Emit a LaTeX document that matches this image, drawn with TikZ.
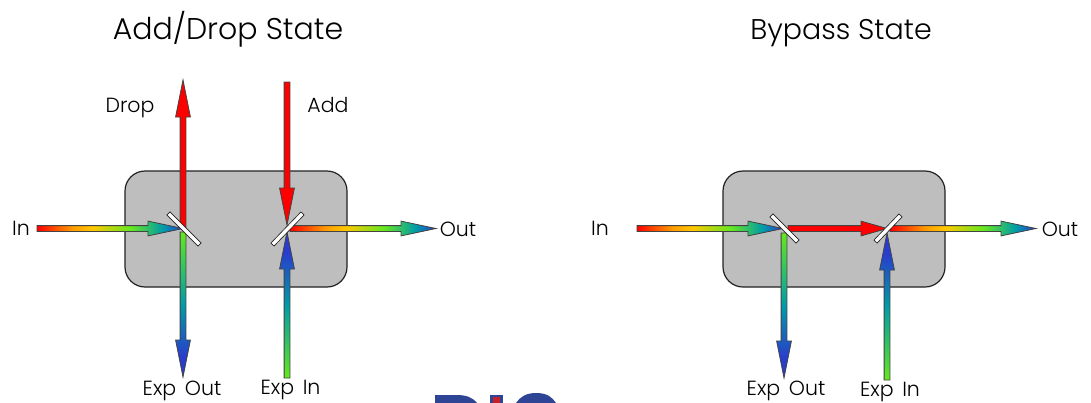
\documentclass[tikz,border=0pt]{standalone}
\usepackage{fontspec}
\setmainfont{Poppins Light}
\usetikzlibrary{calc}
\definecolor{boxgray}{HTML}{BEBEBE}
\definecolor{edge}{HTML}{222222}
\definecolor{logoblue}{HTML}{2E4494}
\definecolor{logored}{HTML}{C8202A}
\definecolor{rbR}{HTML}{FF0000}\definecolor{rbO}{HTML}{FF9A00}\definecolor{rbY}{HTML}{FFC800}
\definecolor{rbG}{HTML}{66E81E}\definecolor{rbT}{HTML}{009CA8}\definecolor{rbB}{HTML}{2A3CCC}
\pgfdeclarehorizontalshading{rainbow}{100bp}{color(0bp)=(rbR); color(25bp)=(rbR); color(37bp)=(rbO); color(44bp)=(rbY); color(57bp)=(rbG); color(68bp)=(rbT); color(75bp)=(rbB); color(100bp)=(rbB)}
\pgfdeclarehorizontalshading{greenblue}{100bp}{color(0bp)=(rbG); color(25bp)=(rbG); color(50bp)=(rbT); color(68bp)=(rbB); color(75bp)=(rbB); color(100bp)=(rbB)}
\pgfdeclarehorizontalshading{solidred}{100bp}{color(0bp)=(rbR); color(100bp)=(rbR)}
\tikzset{
  x=1pt,y=-1pt,
  device/.style={draw=edge,fill=boxgray,line width=1.2pt,rounded corners=20pt},
  beam/.style={draw=edge!85,line width=.8pt},
  mirrorout/.style={draw=edge,line width=5pt,line cap=rect},
  mirrorin/.style={draw=white,line width=3.4pt,line cap=rect},
  title/.style={font=\fontsize{30}{32}\selectfont,inner sep=0pt,anchor=base},
  titleb/.style={font=\fontsize{28.5}{32}\selectfont,inner sep=0pt,anchor=base},
  lab/.style={font=\fontsize{20.5}{22}\selectfont,inner sep=0pt,anchor=base},
}
% optional head length, start, tip, shading, angle
\newcommand{\harrow}[5][35]{\shade[beam,shading=#4,shading angle=#5]
  ([yshift=2.9pt]#2) -- ([xshift=-#1pt,yshift=2.9pt]#3) -- ([xshift=-#1pt,yshift=7.4pt]#3) -- (#3)
  -- ([xshift=-#1pt,yshift=-7.4pt]#3) -- ([xshift=-#1pt,yshift=-2.9pt]#3) -- ([yshift=-2.9pt]#2) -- cycle;}
% start, tip, shading, angle, sign (-1 = points up on the page, +1 = points down)
\newcommand{\varrow}[5]{\shade[beam,shading=#3,shading angle=#4]
  ([xshift=-2.9pt]#1) -- ([xshift=-2.9pt,yshift=#5*37pt]#2) -- ([xshift=-7.4pt,yshift=#5*37pt]#2) -- (#2)
  -- ([xshift=7.4pt,yshift=#5*37pt]#2) -- ([xshift=2.9pt,yshift=#5*37pt]#2) -- ([xshift=2.9pt]#1) -- cycle;}
\begin{document}
\begin{tikzpicture}
\useasboundingbox (0,0) rectangle (1091,402);
\fill[white] (0,0) rectangle (1091,402);
% logo fragment cut by the lower edge
\begin{scope}
\clip (0,0) rectangle (1091,402);
\fill[logoblue] (435,395) -- (456,395) .. controls (466,395) and (472,397) .. (477,403) -- (435,403) -- cycle;
\fill[logoblue] (490,395) rectangle (503,403);
\fill[logored] (493,397) rectangle (500,403);
\fill[logoblue] (536,393) .. controls (547,393) and (552,397) .. (556,403) -- (516,403) .. controls (520,397) and (526,393) .. (536,393) -- cycle;
\end{scope}
% devices
\node[device,minimum width=222pt,minimum height=116pt,inner sep=0pt] (boxA) at (236,229) {};
\node[device,minimum width=222pt,minimum height=116pt,inner sep=0pt] (boxB) at (834,229) {};
% coordinates
\coordinate (aIn) at (37,228.5); \coordinate (aInT) at (183,228.5);
\coordinate (aDropS) at (183,228); \coordinate (aDropT) at (183,80);
\coordinate (aAddS) at (287,82); \coordinate (aAddT) at (287,225);
\coordinate (aOutS) at (290,228.5); \coordinate (aOutT) at (436,228.5);
\coordinate (aXoS) at (183,232); \coordinate (aXoT) at (183,377);
\coordinate (aXiS) at (287,378); \coordinate (aXiT) at (287,232);
\coordinate (bIn) at (637,228.5); \coordinate (bInT) at (783,228.5);
\coordinate (bMidS) at (788,228.5); \coordinate (bMidT) at (887,228.5);
\coordinate (bOutS) at (890,228.5); \coordinate (bOutT) at (1036,228.5);
\coordinate (bXoS) at (784,233); \coordinate (bXoT) at (784,378);
\coordinate (bXiS) at (887,380); \coordinate (bXiT) at (887,233);
\coordinate (m1a) at (170,215); \coordinate (m1b) at (198,243);
\coordinate (m2a) at (301,215); \coordinate (m2b) at (274,243);
\coordinate (m3a) at (773,217); \coordinate (m3b) at (796,240);
\coordinate (m4a) at (899,217); \coordinate (m4b) at (877,240);
% left state arrows
\varrow{aDropS}{aDropT}{solidred}{0}{-1}
\varrow{aAddS}{aAddT}{solidred}{0}{1}
\varrow{aXoS}{aXoT}{greenblue}{270}{1}
\varrow{aXiS}{aXiT}{greenblue}{90}{-1}
\harrow{aIn}{aInT}{rainbow}{0}
\harrow{aOutS}{aOutT}{rainbow}{0}
\draw[mirrorout] (m1a) -- (m1b); \draw[mirrorin] (m1a) -- (m1b);
\draw[mirrorout] (m2a) -- (m2b); \draw[mirrorin] (m2a) -- (m2b);
% right state arrows
\varrow{bXoS}{bXoT}{greenblue}{270}{1}
\varrow{bXiS}{bXiT}{greenblue}{90}{-1}
\harrow{bIn}{bInT}{rainbow}{0}
\harrow[26]{bMidS}{bMidT}{solidred}{0}
\harrow{bOutS}{bOutT}{rainbow}{0}
\draw[mirrorout] (m3a) -- (m3b); \draw[mirrorin] (m3a) -- (m3b);
\draw[mirrorout] (m4a) -- (m4b); \draw[mirrorin] (m4a) -- (m4b);
% labels
\node[title] (tA) at (228,39) {Add/Drop State};
\node[titleb] (tB) at (841,39) {Bypass State};
\node[lab] (lDrop) at (130,112) {Drop};
\node[lab] (lAdd) at (328,112) {Add};
\node[lab] (lIn) at (21,235) {In};
\node[lab] (lOut) at (458,236) {Out};
\node[lab] (lXo) at (182,395.5) {Exp\hspace{3pt} Out};
\node[lab] (lXi) at (290.5,394.5) {Exp\hspace{3pt} In};
\node[lab] (lIn2) at (600,235) {In};
\node[lab] (lOut2) at (1060,236) {Out};
\node[lab] (lXo2) at (786,395.5) {Exp\hspace{3pt} Out};
\node[lab] (lXi2) at (890,396.5) {Exp\hspace{3pt} In};
\end{tikzpicture}
\end{document}
